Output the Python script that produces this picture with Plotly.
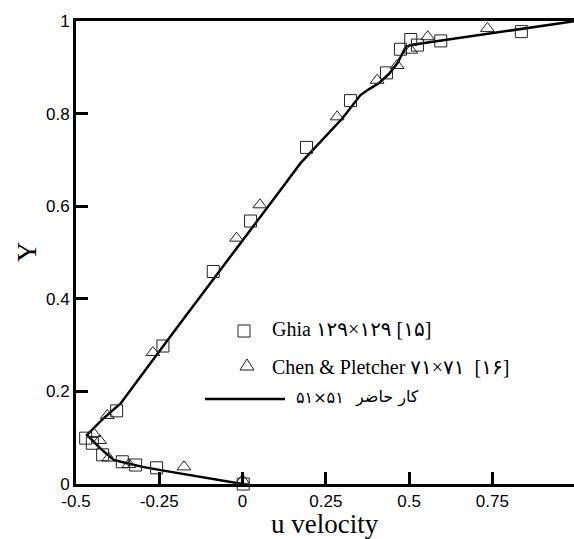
import plotly.graph_objects as go

# Present work (51x51) line
line_u = [1.0, 0.80, 0.60, 0.505, 0.49, 0.465, 0.44, 0.41, 0.38, 0.354, 0.30, 0.174, 0.114,
          0.0, -0.10, -0.20, -0.30, -0.366, -0.42, -0.467, -0.427, -0.387, -0.347, -0.30,
          -0.246, -0.15, 0.0]
line_y = [1.0, 0.979, 0.958, 0.948, 0.944, 0.909, 0.886, 0.866, 0.853, 0.840, 0.790, 0.693, 0.635,
          0.527, 0.431, 0.335, 0.238, 0.174, 0.140, 0.106, 0.077, 0.052, 0.045, 0.037,
          0.030, 0.018, 0.0]

# Ghia 129x129
ghia_u = [1.0, 0.837, 0.595, 0.525, 0.505, 0.474, 0.432, 0.324, 0.192, 0.024, -0.088,
          -0.239, -0.378, -0.471, -0.451, -0.420, -0.361, -0.321, -0.258, 0.002]
ghia_y = [1.0, 0.977, 0.957, 0.948, 0.960, 0.939, 0.888, 0.828, 0.727, 0.568, 0.459,
          0.298, 0.158, 0.099, 0.088, 0.063, 0.048, 0.041, 0.035, 0.0]

# Chen & Pletcher 71x71
chen_u = [0.735, 0.556, 0.505, 0.464, 0.404, 0.284, 0.052, -0.018, -0.269, -0.406,
          -0.447, -0.429, -0.402, -0.341, -0.176, 0.0]
chen_y = [0.984, 0.966, 0.937, 0.904, 0.872, 0.793, 0.603, 0.531, 0.284, 0.148,
          0.109, 0.094, 0.056, 0.042, 0.037, 0.008]

x_ticks = [-0.5, -0.25, 0, 0.25, 0.5, 0.75]
x_tick_text = ["-0.5", "-0.25", "0", "0.25", "0.5", "0.75"]
y_ticks = [0, 0.2, 0.4, 0.6, 0.8, 1]
y_tick_text = ["0", "0.2", "0.4", "0.6", "0.8", "1"]

label_ghia = "Ghia ۱۲۹×۱۲۹ [۱۵]"
label_chen = "Chen & Pletcher ۷۱×۷۱\u00a0\u00a0[۱۶]"
label_present_grid = "۵۱×۵۱"
label_present_words = "کار حاضر"
x_title = "u velocity"
y_title = "Y"

fig = go.Figure()
fig.add_trace(go.Scatter(x=line_u, y=line_y, mode="lines",
                         line=dict(color="black", width=2.5), cliponaxis=False, showlegend=False))
fig.add_trace(go.Scatter(x=ghia_u, y=ghia_y, mode="markers", cliponaxis=False, showlegend=False,
                         marker=dict(symbol="square-open", size=12, color="#222",
                                     line=dict(width=1, color="#222"))))
fig.add_trace(go.Scatter(x=chen_u, y=chen_y, mode="markers", cliponaxis=False, showlegend=False,
                         marker=dict(symbol="triangle-up-open", size=12, color="#222",
                                     line=dict(width=1, color="#222"))))

L, T, W, H = 76, 21, 498, 463


def px(x):
    return (x - L) / W


def py(y):
    return (T + H - y) / H


shapes = [
    dict(type="rect", xref="paper", yref="paper", xsizemode="pixel", ysizemode="pixel",
         xanchor=px(244), yanchor=py(331), x0=-6, x1=6, y0=-6, y1=6,
         line=dict(color="#222", width=1)),
    dict(type="path", xref="paper", yref="paper", xsizemode="pixel", ysizemode="pixel",
         xanchor=px(247), yanchor=py(366), path="M -7,-4 L 7,-4 L 0,7 Z",
         line=dict(color="#222", width=1)),
    dict(type="line", xref="paper", yref="paper", x0=px(205), x1=px(285), y0=py(399), y1=py(399),
         line=dict(color="black", width=2.5)),
]

serif = "Liberation Serif, DejaVu Sans"
annotations = [
    dict(xref="paper", yref="paper", x=px(270), y=py(329), text=label_ghia, showarrow=False,
         xanchor="left", yanchor="middle", font=dict(family=serif, size=20, color="black")),
    dict(xref="paper", yref="paper", x=px(270), y=py(367), text=label_chen, showarrow=False,
         xanchor="left", yanchor="middle", font=dict(family=serif, size=20, color="black")),
    dict(xref="paper", yref="paper", x=px(294), y=py(397), text=label_present_grid, showarrow=False,
         xanchor="left", yanchor="middle", font=dict(family="DejaVu Sans", size=16, color="black")),
    dict(xref="paper", yref="paper", x=px(421), y=py(397), text=label_present_words, showarrow=False,
         xanchor="right", yanchor="middle", font=dict(family="DejaVu Sans", size=16, color="black")),
    dict(xref="paper", yref="paper", x=px(325), y=py(524), text=x_title, showarrow=False,
         xanchor="center", yanchor="middle", borderpad=0,
         font=dict(family="Liberation Serif", size=27, color="black")),
    dict(xref="paper", yref="paper", x=px(26), y=py(252), text=y_title, showarrow=False,
         xanchor="center", yanchor="middle", textangle=-90,
         font=dict(family="Liberation Serif", size=28, color="black")),
]

fig.update_layout(
    width=574, height=539,
    margin=dict(l=L, r=574 - L - W, t=T, b=539 - T - H),
    paper_bgcolor="white", plot_bgcolor="white",
    shapes=shapes, annotations=annotations,
    xaxis=dict(range=[-0.5, 0.995], tickvals=x_ticks, ticktext=x_tick_text, automargin=False,
               ticks="inside", ticklen=12, tickwidth=2.5, tickcolor="black",
               showline=True, linewidth=3, linecolor="black", mirror=True,
               showgrid=False, zeroline=False,
               tickfont=dict(family="Liberation Sans", size=17, color="black")),
    yaxis=dict(range=[0, 1], tickvals=y_ticks, ticktext=y_tick_text, automargin=False,
               ticks="inside", ticklen=12, tickwidth=2.5, tickcolor="black",
               showline=True, linewidth=3, linecolor="black", mirror=False,
               showgrid=False, zeroline=False,
               tickfont=dict(family="Liberation Sans", size=17, color="black")),
)

fig.write_html("out.html", config={"displayModeBar": False},
               post_script="document.body.style.margin='0px';"
               "document.body.style.overflow='hidden';")
